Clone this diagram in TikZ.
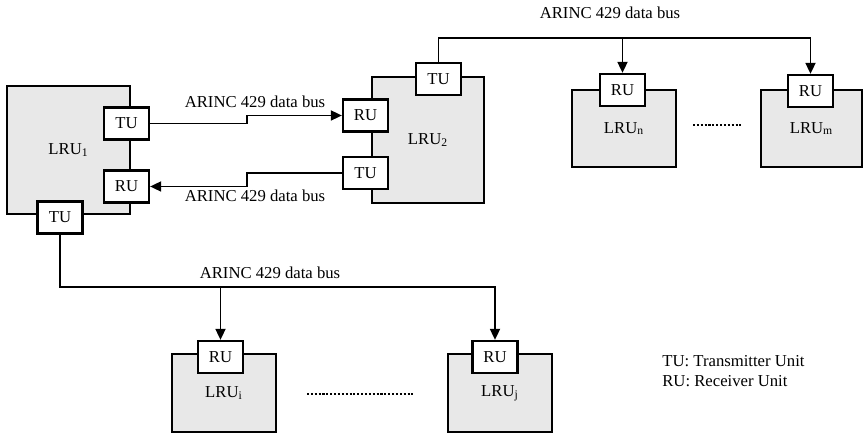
\documentclass[tikz,border=0pt]{standalone}
\usepackage{fontspec}
\setmainfont{Liberation Serif}
\usetikzlibrary{positioning,arrows.meta}

\tikzset{
  lru/.style={draw, line width=0.9pt, fill=black!9, inner sep=0pt},
  unit/.style={draw, line width=1.3pt, fill=white, minimum width=0.9cm, minimum height=0.64cm, inner sep=0pt},
  bus/.style={line width=1pt},
  busarrow/.style={bus, -{Triangle[length=0.22cm,width=0.2cm]}},
  dots/.style={densely dotted, line width=1.2pt},
}

\begin{document}
\begin{tikzpicture}[x=0.02cm, y=-0.02cm, font=\fontsize{9.5}{11.4}\selectfont]
\useasboundingbox (0,0) rectangle (863,435);

% Line replaceable units
\node[lru, minimum width=2.46cm, minimum height=2.56cm] (lru1) at (68.5,150) {LRU\textsubscript{1}};
\node[lru, minimum width=2.24cm, minimum height=2.52cm] (lru2) at (428,140) {LRU\textsubscript{2}};
\node[lru, minimum width=2.08cm, minimum height=1.54cm] (lrun) at (624,128.5) {LRU\textsubscript{n}};
\node[lru, minimum width=2.02cm, minimum height=1.54cm] (lrum) at (811.5,128.5) {LRU\textsubscript{m}};
\node[lru, minimum width=2.08cm, minimum height=1.56cm] (lrui) at (224,393) {LRU\textsubscript{i}};
\node[lru, minimum width=2.08cm, minimum height=1.56cm] (lruj) at (500,393) {LRU\textsubscript{j}};

% Transmitter and receiver units
\node[unit] (tu1r) at (126.5,123.5) {TU};
\node[unit] (ru1r) at (126.5,186.5) {RU};
\node[unit] (tu1b) at (60,217.5) {TU};
\node[unit] (ru2a) at (365.5,115.5) {RU};
\node[unit] (tu2b) at (365.5,173) {TU};
\node[unit] (tu2t) at (438.5,79) {TU};
\node[unit] (run) at (622.5,90) {RU};
\node[unit] (rum) at (810.5,91) {RU};
\node[unit] (rui) at (220.5,357) {RU};
\node[unit] (ruj) at (495,357) {RU};

% Bus routing helpers
\coordinate (jog) at (247,0);
\coordinate (topbus) at (0,38);
\coordinate (botbus) at (0,287);

% Point-to-point links between LRU1 and LRU2
\draw[busarrow] (tu1r.east) -- (tu1r.east -| jog) |- (ru2a.west);
\draw[busarrow] (tu2b.west) -- (tu2b.west -| jog) |- (ru1r.east);

% Broadcast bus from LRU2
\draw[busarrow] (tu2t.north) |- (rum.north |- topbus) -- (rum.north);
\draw[busarrow] (run.north |- topbus) -- (run.north);

% Broadcast bus from LRU1
\draw[busarrow] (tu1b.south) |- (ruj.north |- botbus) -- (ruj.north);
\draw[busarrow] (rui.north |- botbus) -- (rui.north);

% Bus labels
\node (lblfwd) at (255,102) {ARINC 429 data bus};
\node (lblret) at (255,196) {ARINC 429 data bus};
\node (lbltop) at (610,13) {ARINC 429 data bus};
\node (lblbot) at (270,273) {ARINC 429 data bus};

% Omitted units
\draw[dots] (693,125) -- (743,125);
\draw[dots] (307,394) -- (415,394);

% Legend
\node[anchor=north west, align=left, inner sep=0pt] (legend) at (662,355) {TU: Transmitter Unit\\RU: Receiver Unit};

\end{tikzpicture}
\end{document}
